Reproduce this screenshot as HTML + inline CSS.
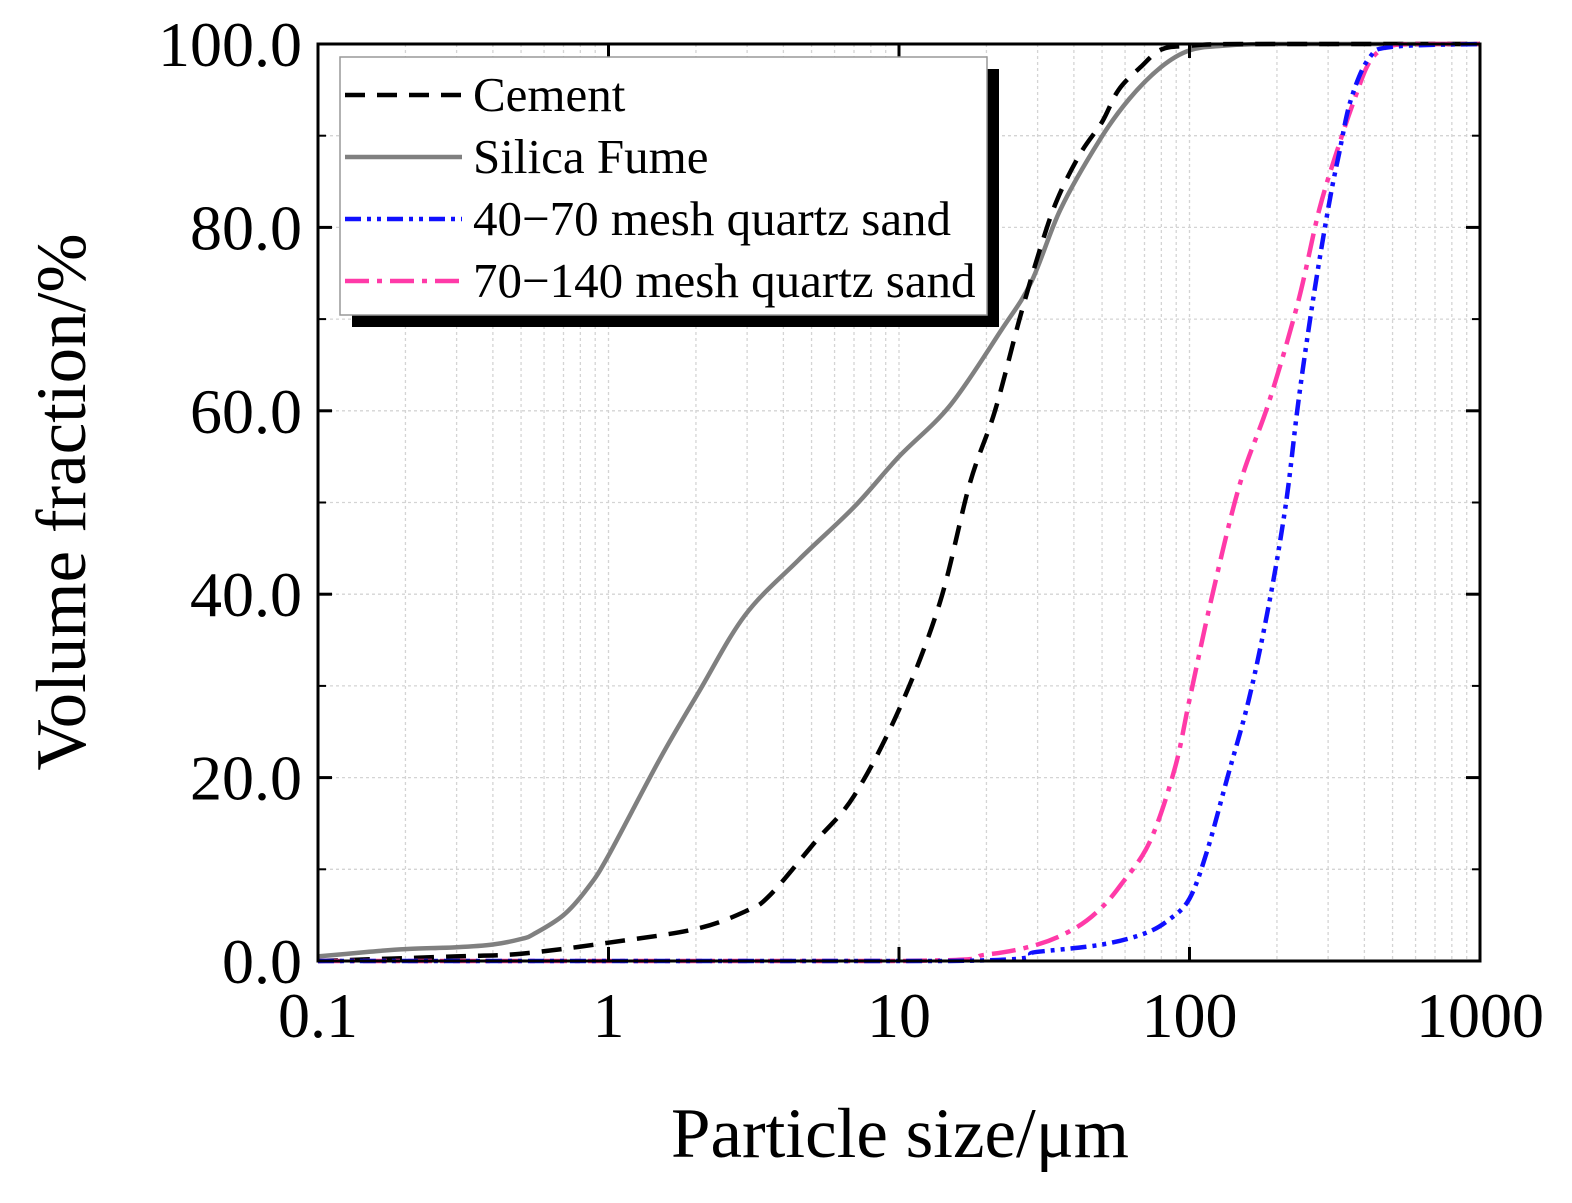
<!DOCTYPE html>
<html><head><meta charset="utf-8">
<style>
html,body{margin:0;padding:0;background:#fff;}
svg{display:block;font-family:"Liberation Serif",serif;}
</style></head>
<body>
<svg id="chart" width="1572" height="1203" viewBox="0 0 1572 1203"></svg>
<script>
// ---- data ----
const cementX = [0.1,0.3,0.5,1,2,3,3.6,5.15,7,10,13.8,17.5,21.4,26,30.5,35,42,50,57,68,80,100,150,1000];
const cementY = [0,0.5,0.8,2,3.5,5.5,7.2,13,18,27.4,39,52,60,70,77.5,83,88,91.5,95,97.5,99.4,99.8,100,100];
const silicaX = [0.1,0.15,0.2,0.3,0.4,0.5,0.55,0.7,0.85,1,1.5,2.06,2.95,4.5,7,10,15,22.5,28.5,36,49,62,80,100,130,200,1000];
const silicaY = [0.5,1,1.3,1.5,1.8,2.4,2.9,5,8,11.5,22,29.5,37.7,43.7,49.5,55,60.6,68.8,74,82,89.5,94,97.5,99.3,99.8,100,100];
const blueX = [0.1,15,30,50,70,85,100,115,135,160,188,215,237,266,300,327,360,416,500,1000];
const blueY = [0,0,1,1.8,3,4.5,6.8,12,20,28.5,39,50,61,72,82,88,94,98.5,99.7,100];
const pinkX = [0.1,10,20,30,40,49,58,73,89,100,120,149,188,237,280,327,370,416,480,600,1000];
const pinkY = [0,0,0.7,1.8,3.5,5.6,8.3,13,21,28.5,40,52,61,72,82,89,94,98,99.7,100,100];
const yTicks = [0,20,40,60,80,100];
const yTickLabels = ["0.0","20.0","40.0","60.0","80.0","100.0"];
const xTicks = [0.1,1,10,100,1000];
const xTickLabels = ["0.1","1","10","100","1000"];

// ---- axes ----
const X0=318, X1=1480, Y0=961, Y1=44;
const xs = v => X0 + (Math.log10(v)+1)/4*(X1-X0);
const ys = v => Y0 - v/100*(Y0-Y1);
const svg = document.getElementById('chart');
const NS='http://www.w3.org/2000/svg';
function mk(tag, attrs, parent){const e=document.createElementNS(NS,tag);for(const k in attrs)e.setAttribute(k,attrs[k]);(parent||svg).appendChild(e);return e;}

// grid
const grid = mk('g',{});


for(let d=-1; d<3; d++){
  for(let m=1;m<10;m++){
    const v=m*Math.pow(10,d); if(v<=0.1) continue;
    const x=xs(v);
    mk('line',{x1:x,x2:x,y1:Y1,y2:Y0,stroke:'#d4d4d4','stroke-width':1.3,'stroke-dasharray':'3,3'},grid);
  }
}
for(let v=10; v<100; v+=10){
  const y=ys(v);
  mk('line',{x1:X0,x2:X1,y1:y,y2:y,stroke:'#d4d4d4','stroke-width':1.3,'stroke-dasharray':'3,3'},grid);
}

// smooth path (Catmull-Rom, clamped in y)
function smoothPath(P){
  let d='M'+P[0][0].toFixed(1)+','+P[0][1].toFixed(1);
  for(let i=0;i<P.length-1;i++){
    const p0=P[Math.max(0,i-1)],p1=P[i],p2=P[i+1],p3=P[Math.min(P.length-1,i+2)];
    const t=1/6;
    let c1x=p1[0]+(p2[0]-p0[0])*t, c1y=p1[1]+(p2[1]-p0[1])*t;
    let c2x=p2[0]-(p3[0]-p1[0])*t, c2y=p2[1]-(p3[1]-p1[1])*t;
    const lo=Math.min(p1[1],p2[1]), hi=Math.max(p1[1],p2[1]);
    c1y=Math.min(hi,Math.max(lo,c1y)); c2y=Math.min(hi,Math.max(lo,c2y));
    d+=' C'+c1x.toFixed(1)+','+c1y.toFixed(1)+' '+c2x.toFixed(1)+','+c2y.toFixed(1)+' '+p2[0].toFixed(1)+','+p2[1].toFixed(1);
  }
  return d;
}
function series(xa, ya, name, color, width, dash){
  const P = xa.map((x,i)=>[xs(x),ys(ya[i])]);
  const p = mk('path',{d:smoothPath(P),fill:'none',stroke:color,'stroke-width':width,'stroke-linejoin':'round'});
  if(dash) p.setAttribute('stroke-dasharray',dash);
  
  
}
series(silicaX, silicaY, 'silica-fume-line', '#808080', 4.5, null);
series(cementX, cementY, 'cement-line', '#000', 4.5, '20,12');
series(pinkX, pinkY, 'sand-70-140-line', '#ff3aa8', 4.5, '24,8,5,8');
series(blueX, blueY, 'sand-40-70-line', '#1010ff', 4.5, '16,6,4,6,4,6');

// frame
const frame = mk('rect',{x:X0,y:Y1,width:X1-X0,height:Y0-Y1,fill:'none',stroke:'#000','stroke-width':3});



// ticks
yTicks.forEach((v,i)=>{
  const y=ys(v);
  mk('line',{x1:X0,x2:X0+14,y1:y,y2:y,stroke:'#000','stroke-width':3});
  mk('line',{x1:X1,x2:X1-14,y1:y,y2:y,stroke:'#000','stroke-width':3});
  if(i<yTicks.length-1){const ym=ys(v+10);
    mk('line',{x1:X0,x2:X0+8,y1:ym,y2:ym,stroke:'#000','stroke-width':2});
    mk('line',{x1:X1,x2:X1-8,y1:ym,y2:ym,stroke:'#000','stroke-width':2});}
  const t=mk('text',{x:302,y:y+22,'text-anchor':'end','font-size':64,fill:'#000'});
  t.textContent=yTickLabels[i];
  
  
});
xTicks.forEach((v,i)=>{
  const x=xs(v);
  mk('line',{x1:x,x2:x,y1:Y0,y2:Y0-14,stroke:'#000','stroke-width':3});
  mk('line',{x1:x,x2:x,y1:Y1,y2:Y1+14,stroke:'#000','stroke-width':3});
  const t=mk('text',{x:x,y:1037,'text-anchor':'middle','font-size':64,fill:'#000'});
  t.textContent=xTickLabels[i];
  
  
});

// titles
let tt=mk('text',{x:900,y:1157,'text-anchor':'middle','font-size':71});
tt.textContent='Particle size/μm';


tt=mk('text',{transform:'translate(85,502) rotate(-90)','text-anchor':'middle','font-size':71});
tt.textContent='Volume fraction/%';



// legend
const g=mk('g',{});


mk('rect',{x:352,y:69,width:647,height:258,fill:'#000'},g);
mk('rect',{x:340,y:57,width:647,height:258,fill:'#fff',stroke:'#999','stroke-width':1.5},g);
const items=[['Cement','#000','20,12'],['Silica Fume','#808080',''],['40−70 mesh quartz sand','#1010ff','16,6,4,6,4,6'],['70−140 mesh quartz sand','#ff3aa8','24,8,5,8']];
items.forEach((it,i)=>{
  const y=95+i*62;
  const l=mk('line',{x1:345,x2:462,y1:y,y2:y,stroke:it[1],'stroke-width':4.5},g);
  if(it[2]) l.setAttribute('stroke-dasharray',it[2]);
  const t=mk('text',{x:473,y:y+16,'font-size':49},g);
  t.textContent=it[0];
  
  
});
</script>
</body></html>
